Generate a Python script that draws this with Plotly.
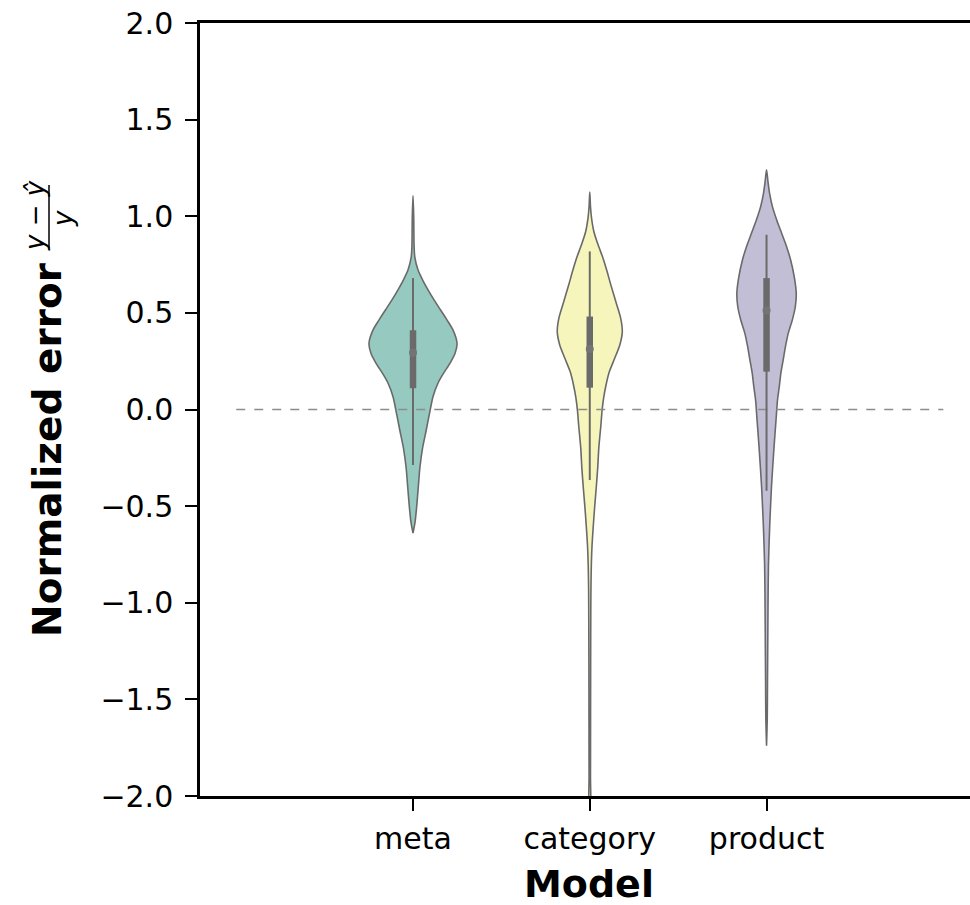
import plotly.graph_objects as go

# ---- data -------------------------------------------------------------
models = ["meta", "category", "product"]
fill_colors = ["#96cac1", "#f6f6bc", "#c1bed6"]

# violin outlines: error levels and half-widths (in category units)
meta_levels = [1.106, 1.00, 0.85, 0.79, 0.723, 0.671, 0.619, 0.567, 0.515, 0.464,
               0.412, 0.343, 0.291, 0.239, 0.188, 0.136, 0.066, -0.003, -0.106,
               -0.2, -0.3, -0.4, -0.5, -0.58, -0.64]
meta_halfwidth = [0.0, 0.004, 0.006, 0.010, 0.028, 0.054, 0.085, 0.119, 0.156, 0.192,
                  0.226, 0.249, 0.238, 0.209, 0.173, 0.141, 0.113, 0.097, 0.075,
                  0.054, 0.039, 0.030, 0.021, 0.012, 0.0]

category_levels = [1.125, 1.05, 0.99, 0.921, 0.852, 0.783, 0.714, 0.645, 0.55, 0.472,
                   0.403, 0.334, 0.265, 0.196, 0.127, 0.058, -0.011, -0.08, -0.2,
                   -0.3, -0.4, -0.5, -0.6, -0.7, -0.8, -0.9, -1.0, -1.3, -1.6,
                   -1.9, -2.1]
category_halfwidth = [0.0, 0.004, 0.010, 0.023, 0.047, 0.075, 0.098, 0.119, 0.150, 0.175,
                      0.184, 0.170, 0.141, 0.111, 0.092, 0.078, 0.069, 0.063, 0.051,
                      0.045, 0.037, 0.028, 0.020, 0.013, 0.009, 0.007, 0.006, 0.005,
                      0.0045, 0.004, 0.003]

product_levels = [1.241, 1.18, 1.12, 1.051, 0.982, 0.913, 0.844, 0.775, 0.68, 0.602,
                  0.533, 0.464, 0.395, 0.325, 0.256, 0.188, 0.118, 0.049, -0.05,
                  -0.2, -0.4, -0.6, -0.8, -1.0, -1.2, -1.4, -1.6, -1.74]
product_halfwidth = [0.0, 0.008, 0.017, 0.033, 0.057, 0.085, 0.113, 0.136, 0.158, 0.168,
                     0.163, 0.146, 0.123, 0.107, 0.094, 0.081, 0.072, 0.062, 0.054,
                     0.042, 0.028, 0.018, 0.011, 0.0085, 0.007, 0.0055, 0.004, 0.0]

# inner box statistics: lower whisker, Q1, median, Q3, upper whisker
whisker_low = [-0.287, -0.365, -0.42]
q1 = [0.11, 0.113, 0.196]
median = [0.294, 0.313, 0.512]
q3 = [0.41, 0.481, 0.68]
whisker_high = [0.68, 0.818, 0.904]

y_ticks = [-2.0, -1.5, -1.0, -0.5, 0.0, 0.5, 1.0, 1.5, 2.0]

# ---- figure -----------------------------------------------------------
W, H = 970, 905
ML, MR, MT, MB = 200, 0, 23, 109
LINE_GREY = "#6a6a6a"
TICK_SIZE = 30

fig = go.Figure()

profiles = [(meta_levels, meta_halfwidth),
            (category_levels, category_halfwidth),
            (product_levels, product_halfwidth)]

for i, (levels, hw) in enumerate(profiles):
    xs = [i + w for w in hw] + [i - w for w in reversed(hw)]
    ys = list(levels) + list(reversed(levels))
    fig.add_trace(go.Scatter(
        x=xs, y=ys, mode="lines", fill="toself",
        fillcolor=fill_colors[i],
        line=dict(color=LINE_GREY, width=1.6, shape="spline", smoothing=0.7),
        hoverinfo="skip", showlegend=False,
    ))

# dashed reference line at zero error
fig.add_trace(go.Scatter(
    x=[-1, 3], y=[0, 0], mode="lines",
    line=dict(color="#8c8c8c", width=1.5, dash="dash"),
    hoverinfo="skip", showlegend=False,
))

# inner boxes: whiskers, interquartile box, median dot
for i in range(len(models)):
    fig.add_trace(go.Scatter(
        x=[i, i], y=[whisker_low[i], whisker_high[i]], mode="lines",
        line=dict(color=LINE_GREY, width=2), hoverinfo="skip", showlegend=False,
    ))
    fig.add_trace(go.Scatter(
        x=[i, i], y=[q1[i], q3[i]], mode="lines",
        line=dict(color=LINE_GREY, width=6.5), hoverinfo="skip", showlegend=False,
    ))
    fig.add_trace(go.Scatter(
        x=[i], y=[median[i]], mode="markers",
        marker=dict(color="#747474", size=8, line=dict(width=0)),
        hoverinfo="skip", showlegend=False,
    ))

font_family = "DejaVu Sans"

fig.update_layout(
    width=W, height=H,
    margin=dict(l=ML, r=MR, t=MT, b=MB, pad=0),
    paper_bgcolor="white", plot_bgcolor="white",
    font=dict(family=font_family, color="black"),
    xaxis=dict(
        range=[-1.205, 3.151],
        tickmode="array", tickvals=[0, 1, 2], ticktext=models,
        ticks="outside", ticklen=12, tickwidth=2, tickcolor="black",
        tickfont=dict(size=TICK_SIZE, family=font_family),
        ticklabelstandoff=2,
        showline=True, linewidth=2.5, linecolor="black", mirror=True,
        showgrid=False, zeroline=False,
    ),
    yaxis=dict(
        range=[-2, 2],
        tickmode="array", tickvals=y_ticks,
        ticktext=[f"{v:.1f}".replace("-", "\u2212") for v in y_ticks],
        ticks="outside", ticklen=12, tickwidth=2, tickcolor="black",
        tickfont=dict(size=TICK_SIZE, family=font_family),
        ticklabelstandoff=6,
        showline=True, linewidth=2.5, linecolor="black", mirror=False,
        showgrid=False, zeroline=False,
    ),
)

plot_w = W - ML - MR
plot_h = H - MT - MB


def px_to_paper(px, py):
    return (px - ML) / plot_w, (H - MB - py) / plot_h


# x-axis title
x0, y0 = px_to_paper(589, 884)
fig.add_annotation(text="<b>Model</b>", x=x0, y=y0, xref="paper", yref="paper",
                   xanchor="center", yanchor="middle", showarrow=False,
                   font=dict(size=38, family=font_family, color="black"))

# y-axis title with the fraction (y − ŷ) / y
x0, y0 = px_to_paper(47, 450)
fig.add_annotation(text="<b>Normalized error</b>", x=x0, y=y0, xref="paper", yref="paper",
                   xanchor="center", yanchor="middle", textangle=-90, showarrow=False,
                   font=dict(size=39, family=font_family, color="black"))

x0, y0 = px_to_paper(35, 216)
fig.add_annotation(text="<i>y</i> \u2212 <i>\u0177</i>", x=x0, y=y0, xref="paper", yref="paper",
                   xanchor="center", yanchor="middle", textangle=-90, showarrow=False,
                   font=dict(size=26, family=font_family, color="black"))

x0, y0 = px_to_paper(63, 219)
fig.add_annotation(text="<i>y</i>", x=x0, y=y0, xref="paper", yref="paper",
                   xanchor="center", yanchor="middle", textangle=-90, showarrow=False,
                   font=dict(size=26, family=font_family, color="black"))

bx, by0 = px_to_paper(49, 248)
_, by1 = px_to_paper(49, 185)
fig.add_shape(type="line", xref="paper", yref="paper", x0=bx, x1=bx, y0=by0, y1=by1,
              line=dict(color="black", width=1.5))

fig.write_html("out.html")
